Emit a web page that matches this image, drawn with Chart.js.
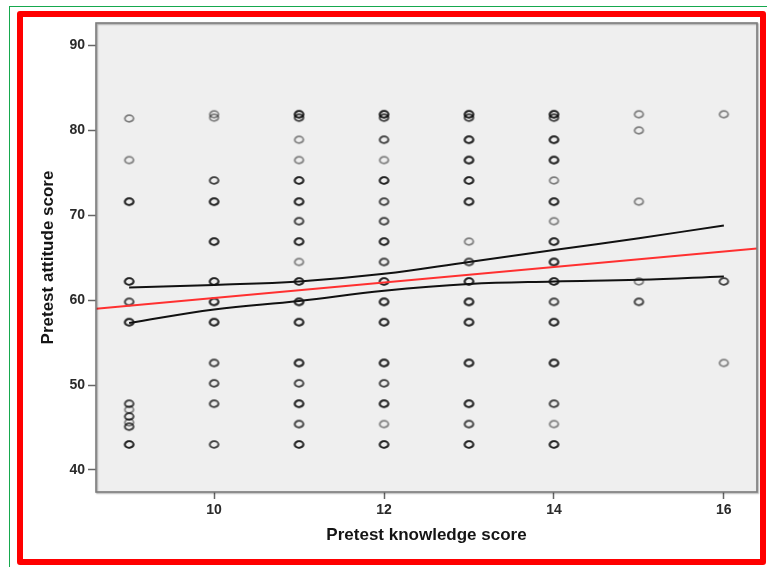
<!DOCTYPE html>
<html>
<head>
<meta charset="utf-8">
<script src="https://cdn.jsdelivr.net/npm/chart.js@4/dist/chart.umd.min.js"></script>
<style>
  html, body { margin: 0; padding: 0; background: #fff; overflow: hidden; }
  #wrap { position: relative; width: 767px; height: 567px; overflow: hidden; }
  #green { position: absolute; left: 9px; top: 6px; width: 820px; height: 620px; border: 1.5px solid #16a84e; }
  #red { position: absolute; left: 17px; top: 11px; width: 737px; height: 542px; border: 6px solid #ff0000; border-radius: 3px; }
  #chart { position: absolute; left: 0; top: 0; }
</style>
</head>
<body>
<div id="wrap">
  <div id="green"></div>
  <div id="red"></div>
  <canvas id="chart" width="767" height="567"></canvas>
</div>
<script>
// pretest knowledge score (x) columns, attitude scores read off the plot
// and a rough count of how many respondents sit on each circle (darker = more)
let knowledge = [9, 10, 11, 12, 13, 14, 15, 16];

let att9  = [81.4, 76.5, 71.6, 62.2, 59.8, 57.4, 47.8, 47.1, 46.3, 45.6, 45.1, 43.0];
let n9    = [1, 1, 3, 3, 2, 3, 2, 1, 2, 1, 2, 3];
let att10 = [81.9, 81.5, 74.1, 71.6, 66.9, 62.2, 59.8, 57.4, 52.6, 50.2, 47.8, 43.0];
let n10   = [1, 1, 2, 3, 3, 3, 3, 3, 2, 2, 2, 2];
let att11 = [81.9, 81.5, 78.9, 76.5, 74.1, 71.6, 69.3, 66.9, 64.5, 62.2, 59.8, 57.4, 52.6, 50.2, 47.8, 45.4, 43.0];
let n11   = [3, 2, 1, 1, 3, 3, 2, 3, 1, 3, 3, 3, 3, 2, 3, 2, 3];
let att12 = [81.9, 81.5, 78.9, 76.5, 74.1, 71.6, 69.3, 66.9, 64.5, 62.2, 59.8, 57.4, 52.6, 50.2, 47.8, 45.4, 43.0];
let n12   = [3, 2, 2, 1, 3, 2, 2, 3, 2, 3, 3, 3, 3, 2, 3, 1, 3];
let att13 = [81.9, 81.5, 78.9, 76.5, 74.1, 71.6, 66.9, 64.5, 62.2, 59.8, 57.4, 52.6, 47.8, 45.4, 43.0];
let n13   = [3, 2, 3, 3, 3, 3, 1, 2, 3, 3, 3, 3, 3, 2, 3];
let att14 = [81.9, 81.5, 78.9, 76.5, 74.1, 71.6, 69.3, 66.9, 64.5, 62.2, 59.8, 57.4, 52.6, 47.8, 45.4, 43.0];
let n14   = [3, 2, 3, 3, 1, 3, 1, 3, 3, 3, 2, 3, 3, 2, 1, 3];
let att15 = [81.9, 80.0, 71.6, 62.2, 59.8];
let n15   = [1, 1, 1, 1, 2];
let att16 = [81.9, 62.2, 52.6];
let n16   = [1, 2, 1];

// linear fit (red) and 95% CI of the mean (black)
let fitX = [8.61, 16.39];
let fitY = [59.0, 66.1];
let ciX = [9, 10, 11, 12, 13, 14, 15, 16];
let ciUpper = [61.5, 61.8, 62.2, 63.1, 64.5, 65.9, 67.3, 68.8];
let ciLower = [57.3, 58.9, 59.9, 61.1, 61.9, 62.2, 62.4, 62.8];

let xTicks = [10, 12, 14, 16];
let yTicks = [40, 50, 60, 70, 80, 90];

let columns = [[att9, n9], [att10, n10], [att11, n11], [att12, n12],
               [att13, n13], [att14, n14], [att15, n15], [att16, n16]];

let points = [];
columns.forEach((col, i) => {
    col[0].forEach((y, j) => {
        for (let k = 0; k < col[1][j]; k++) points.push({x: knowledge[i], y: y});
    });
});

function pairs(xs, ys) {
    return xs.map((x, i) => ({x: x, y: ys[i]}));
}

// open ellipse marker like the SPSS one
let marker = document.createElement('canvas');
marker.width = 13; marker.height = 11;
let mctx = marker.getContext('2d');
mctx.strokeStyle = 'rgba(0,0,0,0.47)';
mctx.lineWidth = 1.8;
mctx.beginPath();
mctx.ellipse(6.5, 5.5, 4.3, 3.3, 0, 0, Math.PI * 2);
mctx.stroke();

let plotFrame = {
    id: 'plotFrame',
    beforeDatasetsDraw(chart) {
        let a = chart.chartArea, c = chart.ctx;
        c.save();
        c.fillStyle = '#efefef';
        c.fillRect(a.left, a.top, a.right - a.left, a.bottom - a.top);
        c.restore();
    },
    afterDraw(chart) {
        let a = chart.chartArea, c = chart.ctx;
        c.save();
        c.shadowColor = 'rgba(0,0,0,0.35)';
        c.shadowOffsetX = 1;
        c.shadowOffsetY = 1;
        c.shadowBlur = 1.5;
        c.strokeStyle = '#7c7c7c';
        c.lineWidth = 1.6;
        c.strokeRect(a.left, a.top, a.right - a.left, a.bottom - a.top);
        c.restore();
    }
};

let font = 'Liberation Sans, Arial, sans-serif';

new Chart(document.getElementById('chart').getContext('2d'), {
    type: 'scatter',
    data: {
        datasets: [
            {
                label: 'fit',
                data: pairs(fitX, fitY),
                showLine: true,
                borderColor: '#ff3030',
                borderWidth: 2,
                pointRadius: 0
            },
            {
                label: 'upper',
                data: pairs(ciX, ciUpper),
                showLine: true,
                borderColor: '#111',
                borderWidth: 2,
                tension: 0.4,
                pointRadius: 0
            },
            {
                label: 'lower',
                data: pairs(ciX, ciLower),
                showLine: true,
                borderColor: '#111',
                borderWidth: 2,
                tension: 0.4,
                pointRadius: 0
            },
            {
                label: 'scores',
                data: points,
                pointStyle: marker,
                pointRadius: 5
            }
        ]
    },
    options: {
        responsive: false,
        animation: false,
        layout: {padding: {top: 23, right: 10, left: 0, bottom: 0}},
        plugins: {legend: {display: false}, tooltip: {enabled: false}},
        scales: {
            x: {
                type: 'linear',
                min: 8.61,
                max: 16.39,
                afterBuildTicks: s => { s.ticks = xTicks.map(v => ({value: v})); },
                afterFit: s => { s.height = 75; },
                border: {display: false},
                grid: {drawOnChartArea: false, tickLength: 7, tickColor: '#666', tickWidth: 1.5},
                ticks: {autoSkip: false, maxRotation: 0, padding: 3, color: '#2a2a2a',
                        font: {family: font, size: 14, weight: 'bold'}},
                title: {display: true, text: 'Pretest knowledge score', color: '#151515',
                        font: {family: font, size: 17, weight: 'bold'},
                        padding: {top: 0, bottom: 21}}
            },
            y: {
                type: 'linear',
                min: 37.4,
                max: 92.65,
                afterBuildTicks: s => { s.ticks = yTicks.map(v => ({value: v})); },
                afterFit: s => { s.width = 96; },
                border: {display: false},
                grid: {drawOnChartArea: false, tickLength: 8, tickColor: '#666', tickWidth: 1.5},
                ticks: {autoSkip: false, padding: 3, color: '#2a2a2a',
                        font: {family: font, size: 14, weight: 'bold'}},
                title: {display: true, text: 'Pretest attitude score', color: '#151515',
                        font: {family: font, size: 17, weight: 'bold'},
                        padding: {top: 38, bottom: 0}}
            }
        }
    },
    plugins: [plotFrame]
});
</script>
</body>
</html>
